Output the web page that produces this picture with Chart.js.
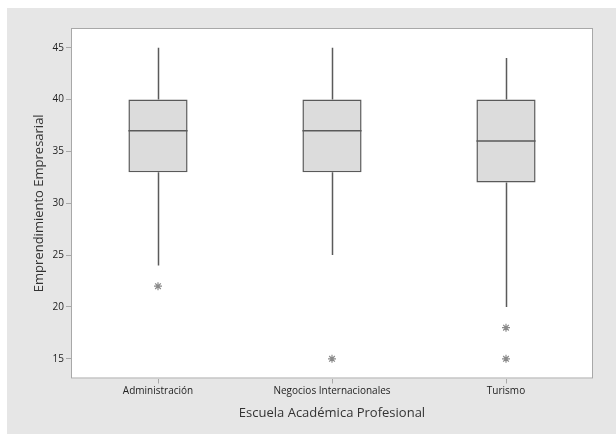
<!DOCTYPE html>
<html>
<head>
<meta charset="utf-8">
<script src="https://cdn.jsdelivr.net/npm/chart.js@4"></script>
<style>
  html, body { margin: 0; padding: 0; background: #ffffff; }
  #wrap { width: 616px; height: 434px; }
</style>
</head>
<body>
<div id="wrap"><canvas id="boxChart" width="616" height="434"></canvas></div>
<script>
// Box plot values
const schools = ["Administración", "Negocios Internacionales", "Turismo"];
const whiskerLow = [24, 25, 20];
const q1 = [33, 33, 32];
const median = [37, 37, 36];
const q3 = [40, 40, 40];
const whiskerHigh = [45, 45, 44];
const outlierSchool = ["Administración", "Negocios Internacionales", "Turismo", "Turismo"];
const outlierValue = [22, 15, 18, 15];
const yTicks = [15, 20, 25, 30, 35, 40, 45];

const lineColor = "#5a5a5a";

// gray frame behind everything, white plot area with border
const framePlugin = {
    id: "frame",
    beforeDraw(chart) {
        const ctx = chart.ctx;
        const a = chart.chartArea;
        ctx.save();
        ctx.fillStyle = "#e6e6e6";
        ctx.fillRect(7, 8, chart.width - 7, chart.height - 8);
        ctx.fillStyle = "#ffffff";
        ctx.fillRect(a.left, a.top, a.right - a.left, a.bottom - a.top);
        ctx.restore();
    },
    afterDraw(chart) {
        const ctx = chart.ctx;
        const a = chart.chartArea;
        ctx.save();
        ctx.strokeStyle = "#a8a8a8";
        ctx.lineWidth = 1;
        ctx.strokeRect(a.left + 0.5, a.top + 0.5, a.right - a.left - 1, a.bottom - a.top - 1);
        ctx.restore();
    }
};

// whiskers and median lines, placed from the bar elements and the y scale
const whiskerPlugin = {
    id: "whiskers",
    beforeDatasetsDraw(chart) {
        const ctx = chart.ctx;
        const y = chart.scales.y;
        const bars = chart.getDatasetMeta(0).data;
        ctx.save();
        ctx.strokeStyle = lineColor;
        ctx.lineWidth = 1.5;
        bars.forEach((bar, i) => {
            const x = Math.round(bar.x) + 0.5;
            ctx.beginPath();
            ctx.moveTo(x, y.getPixelForValue(q3[i]));
            ctx.lineTo(x, y.getPixelForValue(whiskerHigh[i]));
            ctx.moveTo(x, y.getPixelForValue(q1[i]));
            ctx.lineTo(x, y.getPixelForValue(whiskerLow[i]));
            ctx.stroke();
        });
        ctx.restore();
    },
    afterDatasetsDraw(chart) {
        const ctx = chart.ctx;
        const y = chart.scales.y;
        const bars = chart.getDatasetMeta(0).data;
        ctx.save();
        ctx.strokeStyle = lineColor;
        ctx.lineWidth = 1.5;
        bars.forEach((bar, i) => {
            const py = y.getPixelForValue(median[i]);
            ctx.beginPath();
            ctx.moveTo(bar.x - bar.width / 2, py);
            ctx.lineTo(bar.x + bar.width / 2, py);
            ctx.stroke();
        });
        ctx.restore();
    }
};

const ctx = document.getElementById("boxChart").getContext("2d");
new Chart(ctx, {
    type: "bar",
    data: {
        labels: schools,
        datasets: [{
            type: "bar",
            data: schools.map((s, i) => [q1[i], q3[i]]),
            backgroundColor: "#dcdcdc",
            borderColor: lineColor,
            borderWidth: 1.5,
            borderSkipped: false,
            categoryPercentage: 1,
            barPercentage: 0.34,
            order: 2
        }, {
            type: "line",
            data: outlierSchool.map((s, i) => ({ x: s, y: outlierValue[i] })),
            showLine: false,
            pointStyle: "star",
            pointRadius: 4,
            pointBorderColor: "#8a8a8a",
            pointBackgroundColor: "#8a8a8a",
            pointBorderWidth: 1.2,
            order: 1
        }]
    },
    options: {
        responsive: false,
        animation: false,
        layout: { padding: { left: 31, top: 28, right: 23, bottom: 13 } },
        plugins: {
            legend: { display: false },
            tooltip: { enabled: false }
        },
        scales: {
            x: {
                offset: true,
                grid: { display: true, offset: false, drawOnChartArea: false, tickLength: 5, color: "#a8a8a8" },
                border: { display: false },
                ticks: { color: "#222", font: { family: "Open Sans", size: 10 }, padding: 2, maxRotation: 0 },
                title: {
                    display: true,
                    text: "Escuela Académica Profesional",
                    color: "#333",
                    font: { family: "Open Sans", size: 13 },
                    padding: { top: 4, bottom: 0 }
                },
                afterFit(scale) { scale.height = 42.5; }
            },
            y: {
                min: 13.1,
                max: 46.9,
                afterBuildTicks(scale) { scale.ticks = yTicks.map(v => ({ value: v })); },
                grid: { display: true, drawOnChartArea: false, tickLength: 5, color: "#a8a8a8" },
                border: { display: false },
                ticks: { color: "#222", font: { family: "Open Sans", size: 10 }, padding: 2 },
                title: {
                    display: true,
                    text: "Emprendimiento Empresarial",
                    color: "#333",
                    font: { family: "Open Sans", size: 13 },
                    padding: { top: 0, bottom: 4 }
                },
                afterFit(scale) { scale.width = 40; }
            }
        }
    },
    plugins: [framePlugin, whiskerPlugin]
});
</script>
</body>
</html>
